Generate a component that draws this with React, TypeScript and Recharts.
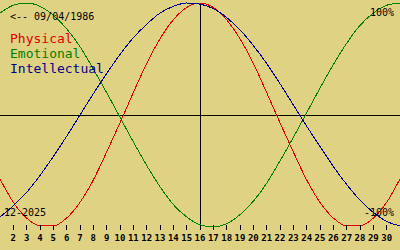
import React from 'react';
import { LineChart, Line, XAxis, YAxis, ReferenceLine } from 'recharts';

// days of the month shown (1..31, day 1 sits on the left edge)
const days = [1, 2, 3, 4, 5, 6, 7, 8, 9, 10, 11, 12, 13, 14, 15, 16, 17, 18, 19, 20, 21, 22, 23, 24, 25, 26, 27, 28, 29, 30, 31];
const dayTicks = [2, 3, 4, 5, 6, 7, 8, 9, 10, 11, 12, 13, 14, 15, 16, 17, 18, 19, 20, 21, 22, 23, 24, 25, 26, 27, 28, 29, 30];

// values in %
const physical = [-57, -78, -92, -99, -99, -92, -78, -58, -33, -7, 20, 46, 68, 85, 96, 100, 96, 85, 68, 46, 20, -7, -33, -58, -78, -92, -99, -99, -92, -78, -57];
const emotional = [91, 98, 100, 97, 89, 77, 61, 41, 20, -2, -24, -45, -64, -80, -91, -98, -100, -97, -89, -77, -61, -41, -20, 2, 24, 45, 64, 80, 91, 98, 100];
const intellectual = [-91, -81, -69, -54, -37, -19, 0, 19, 37, 54, 69, 81, 91, 97, 100, 99, 95, 87, 76, 62, 46, 28, 9, -10, -28, -46, -62, -76, -87, -95, -99];

const today = 16;
const birthLabel = '<-- 09/04/1986';
const monthLabel = '12-2025';

const BG = '#e0d283';
const RED = '#e00000';
const GREEN = '#008000';
const BLUE = '#000090';
const MONO = '"DejaVu Sans Mono", monospace';

const data = days.map((d, i) => ({
  day: d,
  physical: physical[i],
  emotional: emotional[i],
  intellectual: intellectual[i],
}));

const DayTick = (props: any) => {
  const { x, payload } = props;
  return (
    <g>
      <line x1={x} x2={x} y1={225} y2={230} stroke="#000" strokeWidth={1} shapeRendering="crispEdges" />
      <text x={x} y={241} textAnchor="middle" fontFamily={MONO} fontSize={9} fontWeight="bold" fill="#000">
        {payload.value}
      </text>
    </g>
  );
};

export default function App() {
  return (
    <div style={{ position: 'fixed', left: 0, top: 0, width: 400, height: 250, background: BG, overflow: 'hidden' }}>
      <LineChart width={400} height={250} data={data} margin={{ top: 3, right: 0, left: 0, bottom: 0 }}>
        <XAxis
          dataKey="day"
          type="number"
          domain={[1, 31]}
          ticks={dayTicks}
          axisLine={false}
          tickLine={false}
          height={23}
          tick={<DayTick />}
          interval={0}
        />
        <YAxis hide domain={[-100, 100]} />
        <ReferenceLine y={0} stroke="#000" strokeWidth={1} shapeRendering="crispEdges" />
        <ReferenceLine x={today} stroke="#000" strokeWidth={1} shapeRendering="crispEdges" />
        <Line type="monotone" dataKey="emotional" stroke={GREEN} strokeWidth={1} dot={false} isAnimationActive={false} shapeRendering="crispEdges" />
        <Line type="monotone" dataKey="physical" stroke={RED} strokeWidth={1} dot={false} isAnimationActive={false} shapeRendering="crispEdges" />
        <Line type="monotone" dataKey="intellectual" stroke={BLUE} strokeWidth={1} dot={false} isAnimationActive={false} shapeRendering="crispEdges" />
      </LineChart>
      <svg width={400} height={250} style={{ position: 'absolute', left: 0, top: 0, pointerEvents: 'none' }}>
        <text x={10} y={20} fontFamily={MONO} fontSize={10} fill="#000">{birthLabel}</text>
        <text x={10} y={43} fontFamily={MONO} fontSize={13} fill={RED}>Physical</text>
        <text x={10} y={58} fontFamily={MONO} fontSize={13} fill={GREEN}>Emotional</text>
        <text x={10} y={73} fontFamily={MONO} fontSize={13} fill={BLUE}>Intellectual</text>
        <text x={394} y={16} textAnchor="end" fontFamily={MONO} fontSize={10} fill="#000">100%</text>
        <text x={394} y={216} textAnchor="end" fontFamily={MONO} fontSize={10} fill="#000">-100%</text>
        <text x={4} y={216} fontFamily={MONO} fontSize={10} fill="#000">{monthLabel}</text>
      </svg>
    </div>
  );
}
